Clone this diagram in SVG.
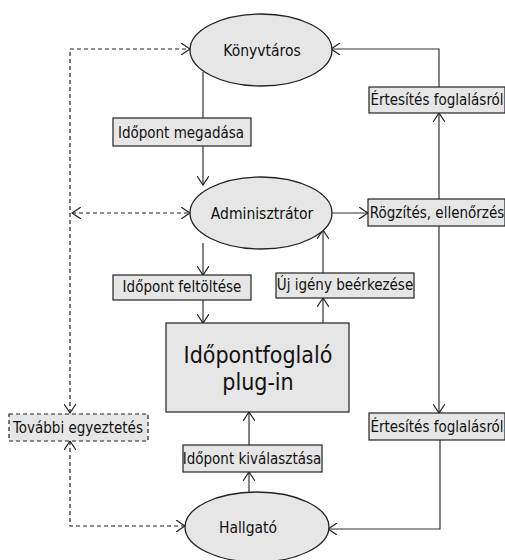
<svg xmlns="http://www.w3.org/2000/svg" width="505" height="560" viewBox="0 0 505 560">
<style>
.n{fill:#e6e6e6;stroke:#222;stroke-width:1.3}
.b{fill:#e6e6e6;stroke:#222;stroke-width:1.2}
.d{fill:#e6e6e6;stroke:#222;stroke-width:1.2;stroke-dasharray:4,3}
text{font-family:"DejaVu Sans Condensed","DejaVu Sans",sans-serif;font-stretch:condensed;fill:#111;text-anchor:middle}
.t{font-size:15.5px}
.l{font-size:15px}
.big{font-size:23px}
.c{fill:none;stroke:#333;stroke-width:1.2}
.cd{fill:none;stroke:#222;stroke-width:1.2;stroke-dasharray:4,3}
</style>
<defs>
<marker id="a" markerWidth="10" markerHeight="12" refX="9" refY="6" orient="auto" markerUnits="userSpaceOnUse">
<path d="M0,0 L9,6 L0,12" fill="none" stroke="#222" stroke-width="1.2"/>
</marker>
<marker id="as" markerWidth="10" markerHeight="12" refX="9" refY="6" orient="auto-start-reverse" markerUnits="userSpaceOnUse">
<path d="M0,0 L9,6 L0,12" fill="none" stroke="#222" stroke-width="1.2"/>
</marker>
</defs>
<g id="connectors">
<path class="c" d="M203,72 V185" marker-end="url(#a)"/>
<path class="c" d="M203,243 V275" marker-end="url(#a)"/>
<path class="c" d="M203,300 V323" marker-end="url(#a)"/>
<path class="c" d="M323,323 V298" marker-end="url(#a)"/>
<path class="c" d="M323,273 V230" marker-end="url(#a)"/>
<path class="c" d="M332,213 H368" marker-end="url(#a)"/>
<path class="c" d="M439,199 V113" marker-end="url(#a)"/>
<path class="c" d="M439,87 V49 H331" marker-end="url(#a)"/>
<path class="c" d="M439,226 V413" marker-end="url(#a)"/>
<path class="c" d="M440,440 V529 H328" marker-end="url(#a)"/>
<path class="c" d="M249,493 V472" marker-end="url(#a)"/>
<path class="c" d="M249,445 V412" marker-end="url(#a)"/>
<path class="cd" d="M70,413 V49 H190" marker-start="url(#as)" marker-end="url(#a)"/>
<path class="cd" d="M72,213 H190" marker-start="url(#as)" marker-end="url(#a)"/>
<path class="cd" d="M70,441 V526 H185" marker-start="url(#as)" marker-end="url(#a)"/>
</g>
<g id="konyvtaros"><ellipse class="n" cx="261" cy="50" rx="71" ry="36"/><text class="t" x="262" y="56">Könyvtáros</text></g>
<g id="adminisztrator"><ellipse class="n" cx="261" cy="213" rx="71" ry="36"/><text class="t" x="262" y="219">Adminisztrátor</text></g>
<g id="hallgato"><ellipse class="n" cx="257" cy="527" rx="72" ry="35"/><text class="t" x="248" y="533">Hallgató</text></g>
<g id="plugin"><rect class="b" x="166" y="323" width="183" height="89"/><text class="big" x="258" y="363">Időpontfoglaló</text><text class="big" x="258" y="390">plug-in</text></g>
<g id="idopont-megadasa"><rect class="b" x="113" y="118" width="138" height="28"/><text class="l" x="181" y="138">Időpont megadása</text></g>
<g id="idopont-feltoltese"><rect class="b" x="113" y="275" width="138" height="25"/><text class="l" x="182" y="292">Időpont feltöltése</text></g>
<g id="uj-igeny"><rect class="b" x="276" y="273" width="138" height="25"/><text class="l" x="345" y="290">Új igény beérkezése</text></g>
<g id="rogzites"><rect class="b" x="368" y="199" width="137" height="27"/><text class="l" x="437" y="218">Rögzítés, ellenőrzés</text></g>
<g id="ertesites-1"><rect class="b" x="369" y="87" width="136" height="26"/><text class="l" x="437" y="105">Értesítés foglalásról</text></g>
<g id="ertesites-2"><rect class="b" x="369" y="413" width="136" height="27"/><text class="l" x="437" y="432">Értesítés foglalásról</text></g>
<g id="idopont-kivalasztasa"><rect class="b" x="183" y="445" width="139" height="27"/><text class="l" x="252" y="464">Időpont kiválasztása</text></g>
<g id="tovabbi"><rect class="d" x="9" y="414" width="139" height="27"/><text class="l" x="78" y="433">További egyeztetés</text></g>
</svg>
